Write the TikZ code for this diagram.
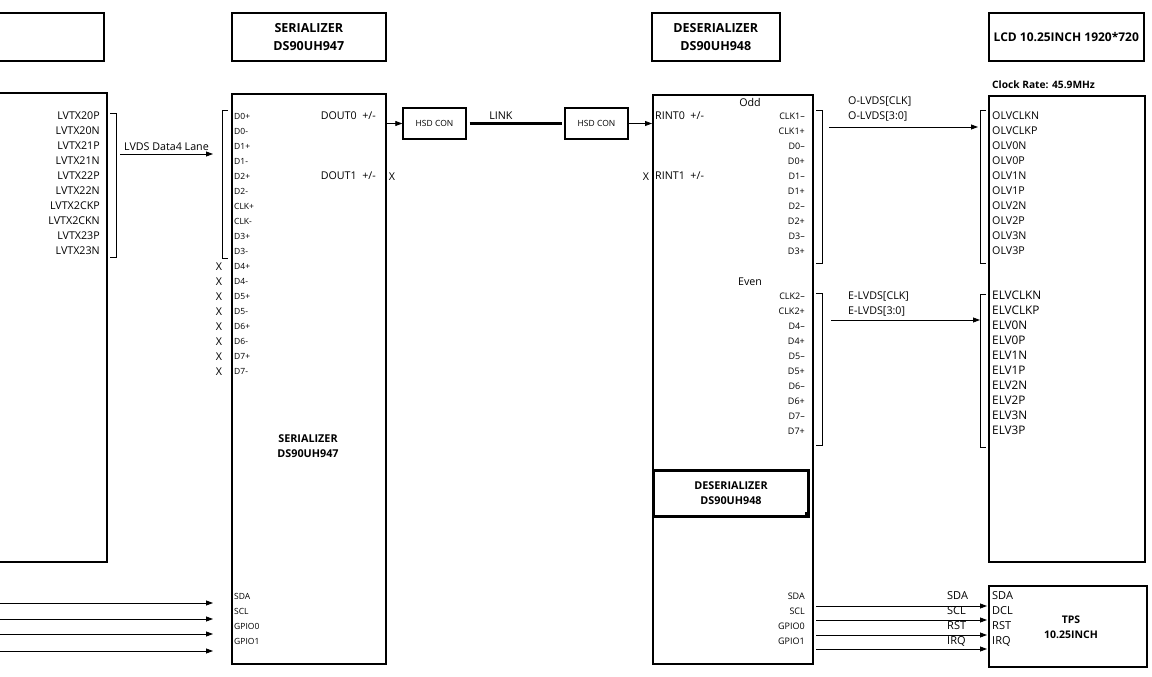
\documentclass[tikz,border=0pt]{standalone}
\usepackage{fontspec}
\setmainfont{Open Sans}
\usetikzlibrary{arrows.meta}
\begin{document}
\begin{tikzpicture}[x=1pt,y=-1pt,
  box/.style={draw,line width=1.6pt,inner sep=0pt,anchor=north west},
  pinl/.style={anchor=mid west,inner sep=0pt,font=\fontsize{8.5}{9}\selectfont},
  pinr/.style={anchor=mid east,inner sep=0pt,font=\fontsize{9}{10}\selectfont},
  lab/.style={inner sep=0pt,font=\fontsize{10.7}{12}\selectfont},
  bigl/.style={anchor=mid west,inner sep=0pt,font=\fontsize{11.8}{13}\selectfont},
  ttl/.style={align=center,inner sep=0pt,font=\bfseries\fontsize{12.5}{18}\selectfont},
  inttl/.style={align=center,inner sep=0pt,font=\bfseries\fontsize{10.8}{15}\selectfont},
  arr/.style={line width=0.8pt,-{Triangle[length=7pt,width=5pt]}},
  brk/.style={line width=0.8pt},
]
\useasboundingbox (0,0) rectangle (1152,677);

% ---------- title boxes ----------
\node[box,minimum width=113,minimum height=48] (srcT) at (-10,12) {};
\node[box,minimum width=154,minimum height=48] (serT) at (231,12) {};
\node[ttl] at (serT.center) {SERIALIZER\\DS90UH947};
\node[box,minimum width=128,minimum height=48] (desT) at (651,12) {};
\node[ttl] at (desT.center) {DESERIALIZER\\DS90UH948};
\node[box,minimum width=155,minimum height=48] (lcdT) at (988,12) {};
\node[inner sep=0pt,font=\bfseries\fontsize{12}{13}\selectfont] at (lcdT.center) {LCD 10.25INCH 1920*720};

% ---------- main blocks ----------
\node[box,minimum width=116,minimum height=469] (src) at (-10,92) {};
\node[box,minimum width=154,minimum height=570] (ser) at (231,93) {};
\node[box,minimum width=160,minimum height=569] (des) at (652,94) {};
\node[box,minimum width=156,minimum height=466] (lcd) at (988,95) {};
\node[box,minimum width=158,minimum height=81] (tps) at (988,585) {};
\node[anchor=mid west,inner sep=0pt,font=\bfseries\fontsize{10.2}{11}\selectfont] (clk) at (992,86) {Clock Rate: 45.9MHz};

% ---------- source pins ----------
\foreach \t [count=\i] in {LVTX20P,LVTX20N,LVTX21P,LVTX21N,LVTX22P,LVTX22N,LVTX2CKP,LVTX2CKN,LVTX23P,LVTX23N}
  \node[lab,anchor=mid east] (lv\i) at (100,102+15*\i) {\t};
\draw[brk] (110,113) -- (116,113) -- (116,257) -- (110,257);
\coordinate (lvA) at (120,154);
\coordinate (lvB) at (213,154);
\draw[arr] (lvA) -- (lvB) node[midway,above=3pt,lab] (lvdsl) {LVDS Data4 Lane};

% ---------- serializer pins ----------
\foreach \t [count=\i] in {D0+,D0-,D1+,D1-,D2+,D2-,CLK+,CLK-,D3+,D3-,D4+,D4-,D5+,D5-,D6+,D6-,D7+,D7-}
  \node[pinl] (sp\i) at (234,102+15*\i) {\t};
\foreach \i in {11,...,18}
  \node[lab] (sx\i) at (219,102+15*\i) {X};
\draw[brk] (228,110) -- (222,110) -- (222,258) -- (228,258);
\node[lab,anchor=mid east] (dout0) at (376,117) {DOUT0\ \ +/-};
\node[lab,anchor=mid east] (dout1) at (376,177) {DOUT1\ \ +/-};
\node[lab] (dx1) at (392,177) {X};
\node[inttl] (serIn) at (308,446) {SERIALIZER\\DS90UH947};
\foreach \t [count=\i] in {SDA,SCL,GPIO0,GPIO1}
  \node[pinl] (sb\i) at (234,582+15*\i) {\t};

% ---------- link ----------
\node[draw,line width=1.4pt,minimum width=63,minimum height=31,inner sep=0pt,font=\fontsize{8.5}{9}\selectfont] (hsd1) at (434.5,123.5) {HSD CON};
\node[draw,line width=1.4pt,minimum width=63,minimum height=31,inner sep=0pt,font=\fontsize{8.5}{9}\selectfont] (hsd2) at (596.5,123.5) {HSD CON};
\draw[arr] (ser.east |- hsd1) -- (hsd1.west);
\draw[line width=3pt,shorten <=3pt,shorten >=2pt] (hsd1.east) -- (hsd2.west) node[pos=0.35,above=3pt,lab] (linkl) {LINK};
\draw[arr] (hsd2.east) -- (des.west |- hsd2);

% ---------- deserializer ----------
\node[lab] (odd) at (750,102) {Odd};
\node[lab,anchor=mid west] (rint0) at (655,117) {RINT0\ \ +/-};
\node[lab,anchor=mid west] (rint1) at (655,177) {RINT1\ \ +/-};
\node[lab] (rx1) at (646,177) {X};
\foreach \t [count=\i] in {CLK1–,CLK1+,D0–,D0+,D1–,D1+,D2–,D2+,D3–,D3+}
  \node[pinr] (dp\i) at (805,102+15*\i) {\t};
\node[lab] (even) at (750,282) {Even};
\foreach \t [count=\i] in {CLK2–,CLK2+,D4–,D4+,D5–,D5+,D6–,D6+,D7–,D7+}
  \node[pinr] (ep\i) at (805,282+15*\i) {\t};
\draw[brk] (816,110) -- (822,110) -- (822,263) -- (816,263);
\draw[brk] (816,293) -- (822,293) -- (822,445) -- (816,445);
\node[draw,line width=3pt,minimum width=155,minimum height=46,inner sep=0pt,anchor=north west] (desIn) at (652,469) {};
\node[inttl] at (desIn.center) {DESERIALIZER\\DS90UH948};
\fill (805,512) rectangle (810,517);
\foreach \t [count=\i] in {SDA,SCL,GPIO0,GPIO1}
  \node[pinr] (db\i) at (805,582+15*\i) {\t};

% ---------- to LCD ----------
\coordinate (oA) at (829,127);
\coordinate (oB) at (978,127);
\draw[arr] (oA) -- (oB);
\node[lab,anchor=mid west] (ol1) at (848,102) {O-LVDS[CLK]};
\node[lab,anchor=mid west] (ol2) at (848,117) {O-LVDS[3:0]};
\coordinate (eA) at (831,320);
\coordinate (eB) at (980,320);
\draw[arr] (eA) -- (eB);
\node[lab,anchor=mid west] (el1) at (848,297) {E-LVDS[CLK]};
\node[lab,anchor=mid west] (el2) at (848,312) {E-LVDS[3:0]};

\draw[brk] (986,110) -- (980,110) -- (980,263) -- (986,263);
\draw[brk] (986,294) -- (980,294) -- (980,447) -- (986,447);
\foreach \t [count=\i] in {OLVCLKN,OLVCLKP,OLV0N,OLV0P,OLV1N,OLV1P,OLV2N,OLV2P,OLV3N,OLV3P}
  \node[lab,anchor=mid west] (ov\i) at (992,102+15*\i) {\t};
\foreach \t [count=\i] in {ELVCLKN,ELVCLKP,ELV0N,ELV0P,ELV1N,ELV1P,ELV2N,ELV2P,ELV3N,ELV3P}
  \node[bigl] (ev\i) at (992,282+15*\i) {\t};

% ---------- TPS ----------
\foreach \t [count=\i] in {SDA,DCL,RST,IRQ}
  \node[bigl,font=\fontsize{11}{12}\selectfont] (tp\i) at (992,582+15*\i) {\t};
\node[inttl,font=\bfseries\fontsize{10.5}{15}\selectfont] (tpsT) at (1071,627) {TPS\\10.25INCH};
\foreach \t/\y/\ly [count=\i] in {SDA/606/597,SCL/620/612,RST/635/627,IRQ/649/642}{
  \coordinate (ta\i) at (816,\y);
  \coordinate (tb\i) at (987,\y);
  \draw[arr] (ta\i) -- (tb\i);
  \node[bigl,font=\fontsize{11}{12}\selectfont] (tl\i) at (947,\ly) {\t};
}

% ---------- left control lines ----------
\foreach \y [count=\i] in {603,619,634,651}{
  \coordinate (la\i) at (-5,\y);
  \coordinate (lb\i) at (213,\y);
  \draw[arr] (la\i) -- (lb\i);
}
\end{tikzpicture}
\end{document}
